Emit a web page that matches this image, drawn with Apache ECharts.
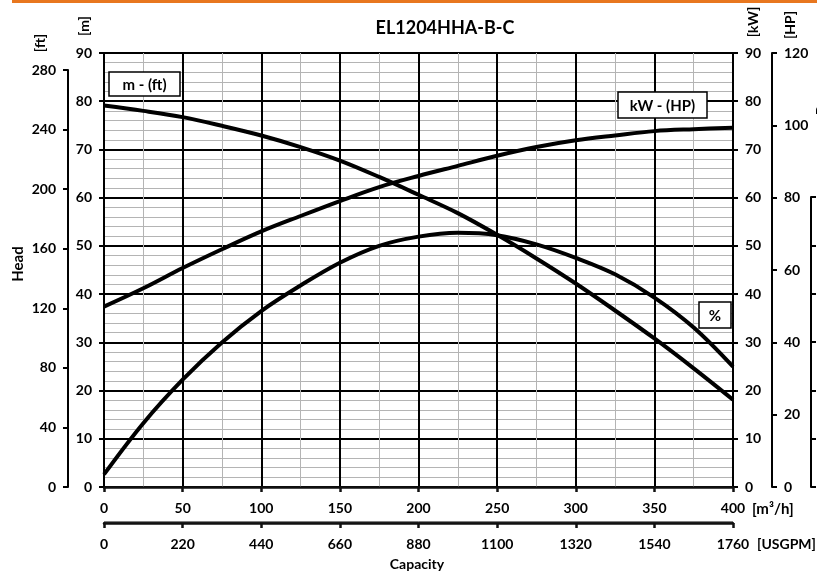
<!DOCTYPE html>
<html>
<head>
<meta charset="utf-8">
<script src="https://cdn.jsdelivr.net/npm/echarts@6/dist/echarts.min.js"></script>
<style>
  html, body { margin: 0; padding: 0; background: #fff; }
  #chart { width: 817px; height: 571px; }
</style>
</head>
<body>
<div id="chart"></div>
<script>
// capacity in m3/h
const flow = [0, 25, 50, 75, 100, 125, 150, 175, 200, 225, 250, 275, 300, 325, 350, 375, 400]
// head [m]
const headM = [79.1, 78.0, 76.7, 74.9, 72.9, 70.5, 67.7, 64.3, 60.6, 56.8, 52.3, 47.4, 42.2, 36.6, 30.8, 24.6, 18.1]
// shaft power [kW]
const powerKW = [37.4, 41.2, 45.4, 49.3, 53.0, 56.2, 59.3, 62.2, 64.5, 66.6, 68.7, 70.5, 71.9, 72.9, 73.8, 74.2, 74.5]
// efficiency [%]
const effPct = [2.6, 13.2, 22.2, 29.9, 36.4, 41.7, 46.4, 49.9, 51.8, 52.6, 52.1, 50.2, 47.4, 44.0, 39.2, 33.0, 24.9]

const FONT = 'Lato'
const black = '#000'
const lbl = { color: black, fontFamily: FONT, fontWeight: 'bold', fontSize: 14, formatter: v => String(v) }

function pairs(ys) { return flow.map((q, i) => [q, ys[i]]) }

function axisBase(extra) {
  return Object.assign({
    type: 'value',
    axisLine: { show: true, onZero: false, lineStyle: { color: black, width: 2 } },
    axisTick: { show: true, length: 5, lineStyle: { color: black, width: 2 } },
    axisLabel: Object.assign({ margin: 12 }, lbl),
    splitLine: { show: false }
  }, extra)
}

// x axes get their own line/tick style
const xLine = { show: true, onZero: false, lineStyle: { color: '#111', width: 2.5 } }
const xTick = { show: true, length: 5, lineStyle: { color: '#111', width: 2.5 } }

function curve(name, ys, xi, yi) {
  return {
    name: name, type: 'line', xAxisIndex: xi, yAxisIndex: yi,
    data: pairs(ys), smooth: 0.35, symbol: 'none',
    lineStyle: { color: black, width: 4 }, z: 10
  }
}

function box(x, y, w, h, text) {
  return {
    type: 'group',
    children: [
      { type: 'rect', z: 100, shape: { x: x, y: y, width: w, height: h }, style: { fill: '#fff', stroke: black, lineWidth: 1.5 } },
      { type: 'text', z: 101, style: { text: text, x: x + w / 2, y: y + h / 2 + 1, align: 'center', verticalAlign: 'middle', textAlign: 'center', fill: black, font: 'bold 15px ' + FONT } }
    ]
  }
}

function txt(text, x, y, size, rot) {
  return {
    type: 'text', x: x, y: y, rotation: rot || 0, z: 100,
    style: { text: text, x: 0, y: 0, align: 'center', verticalAlign: 'middle', textAlign: 'center', fill: black, font: 'bold ' + size + 'px ' + FONT }
  }
}

const minorLine = { show: true, lineStyle: { color: '#b4b4b4', width: 1 } }

const chart = echarts.init(document.getElementById('chart'))
chart.setOption({
  backgroundColor: '#fff',
  animation: false,
  grid: [
    { left: 104, right: 84, top: 53, bottom: 84, show: true, borderColor: black, borderWidth: 2 },
    { left: 68, right: 84, top: 70, bottom: 84 },
    { left: 104, right: 84, top: 197, bottom: 84 },
    // thin strip that carries the USGPM scale; its border doubles as the axis line
    { left: 104, right: 84, top: 522, bottom: 48, show: true, borderColor: black, borderWidth: 1, backgroundColor: 'transparent' }
  ],
  xAxis: [
    axisBase({
      gridIndex: 0, min: 0, max: 400, interval: 50, position: 'bottom',
      axisLine: xLine, axisTick: xTick,
      axisLabel: Object.assign({ margin: 14 }, lbl),
      splitLine: { show: true, lineStyle: { color: black, width: 2 } },
      minorTick: { show: false, splitNumber: 2 },
      minorSplitLine: minorLine
    }),
    axisBase({
      gridIndex: 3, min: 0, max: 1760, interval: 220, position: 'bottom',
      axisLine: xLine, axisTick: xTick,
      axisLabel: Object.assign({ margin: 14 }, lbl)
    }),
    { type: 'value', gridIndex: 1, min: 0, max: 400, show: false },
    { type: 'value', gridIndex: 2, min: 0, max: 400, show: false }
  ],
  yAxis: [
    axisBase({
      gridIndex: 0, min: 0, max: 90, interval: 10, position: 'left',
      splitLine: { show: true, lineStyle: { color: black, width: 2 } },
      minorTick: { show: false, splitNumber: 5 },
      minorSplitLine: minorLine
    }),
    axisBase({ gridIndex: 0, min: 0, max: 90, interval: 10, position: 'right' }),
    axisBase({ gridIndex: 0, min: 0, max: 120, interval: 20, position: 'right', offset: 39 }),
    axisBase({ gridIndex: 1, min: 0, max: 280, interval: 40, position: 'left' }),
    axisBase({ gridIndex: 2, min: 0, max: 60, interval: 10, position: 'right', offset: 78, axisLabel: { show: false } }),
    { type: 'value', gridIndex: 3, min: 0, max: 1, show: false }
  ],
  series: [
    curve('m - (ft)', headM, 0, 0),
    curve('kW - (HP)', powerKW, 0, 1),
    curve('%', effPct, 3, 4)
  ],
  graphic: [
    { type: 'rect', shape: { x: 12, y: 0, width: 805, height: 3 }, style: { fill: '#e8771f' } },
    txt('EL1204HHA-B-C', 445, 28, 18),
    txt('[ft]', 40, 43, 14, Math.PI / 2),
    txt('[m]', 84, 26, 14, Math.PI / 2),
    txt('[kW]', 753, 22, 14, Math.PI / 2),
    txt('[HP]', 790, 25, 14, Math.PI / 2),
    txt('Power', 821, 95, 14, Math.PI / 2),
    txt('Head', 18, 264, 15, Math.PI / 2),
    txt('Capacity', 417, 564, 14),
    { type: 'text', z: 100, style: { text: '[m³/h]', x: 752, y: 509, verticalAlign: 'middle', fill: black, font: 'bold 15px ' + FONT } },
    { type: 'text', z: 100, style: { text: '[USGPM]', x: 757, y: 544, verticalAlign: 'middle', fill: black, font: 'bold 14px ' + FONT } },
    box(109, 72, 71, 24, 'm - (ft)'),
    box(618, 92, 89, 26, 'kW - (HP)'),
    box(699, 302, 32, 26, '%')
  ]
})
</script>
</body>
</html>
